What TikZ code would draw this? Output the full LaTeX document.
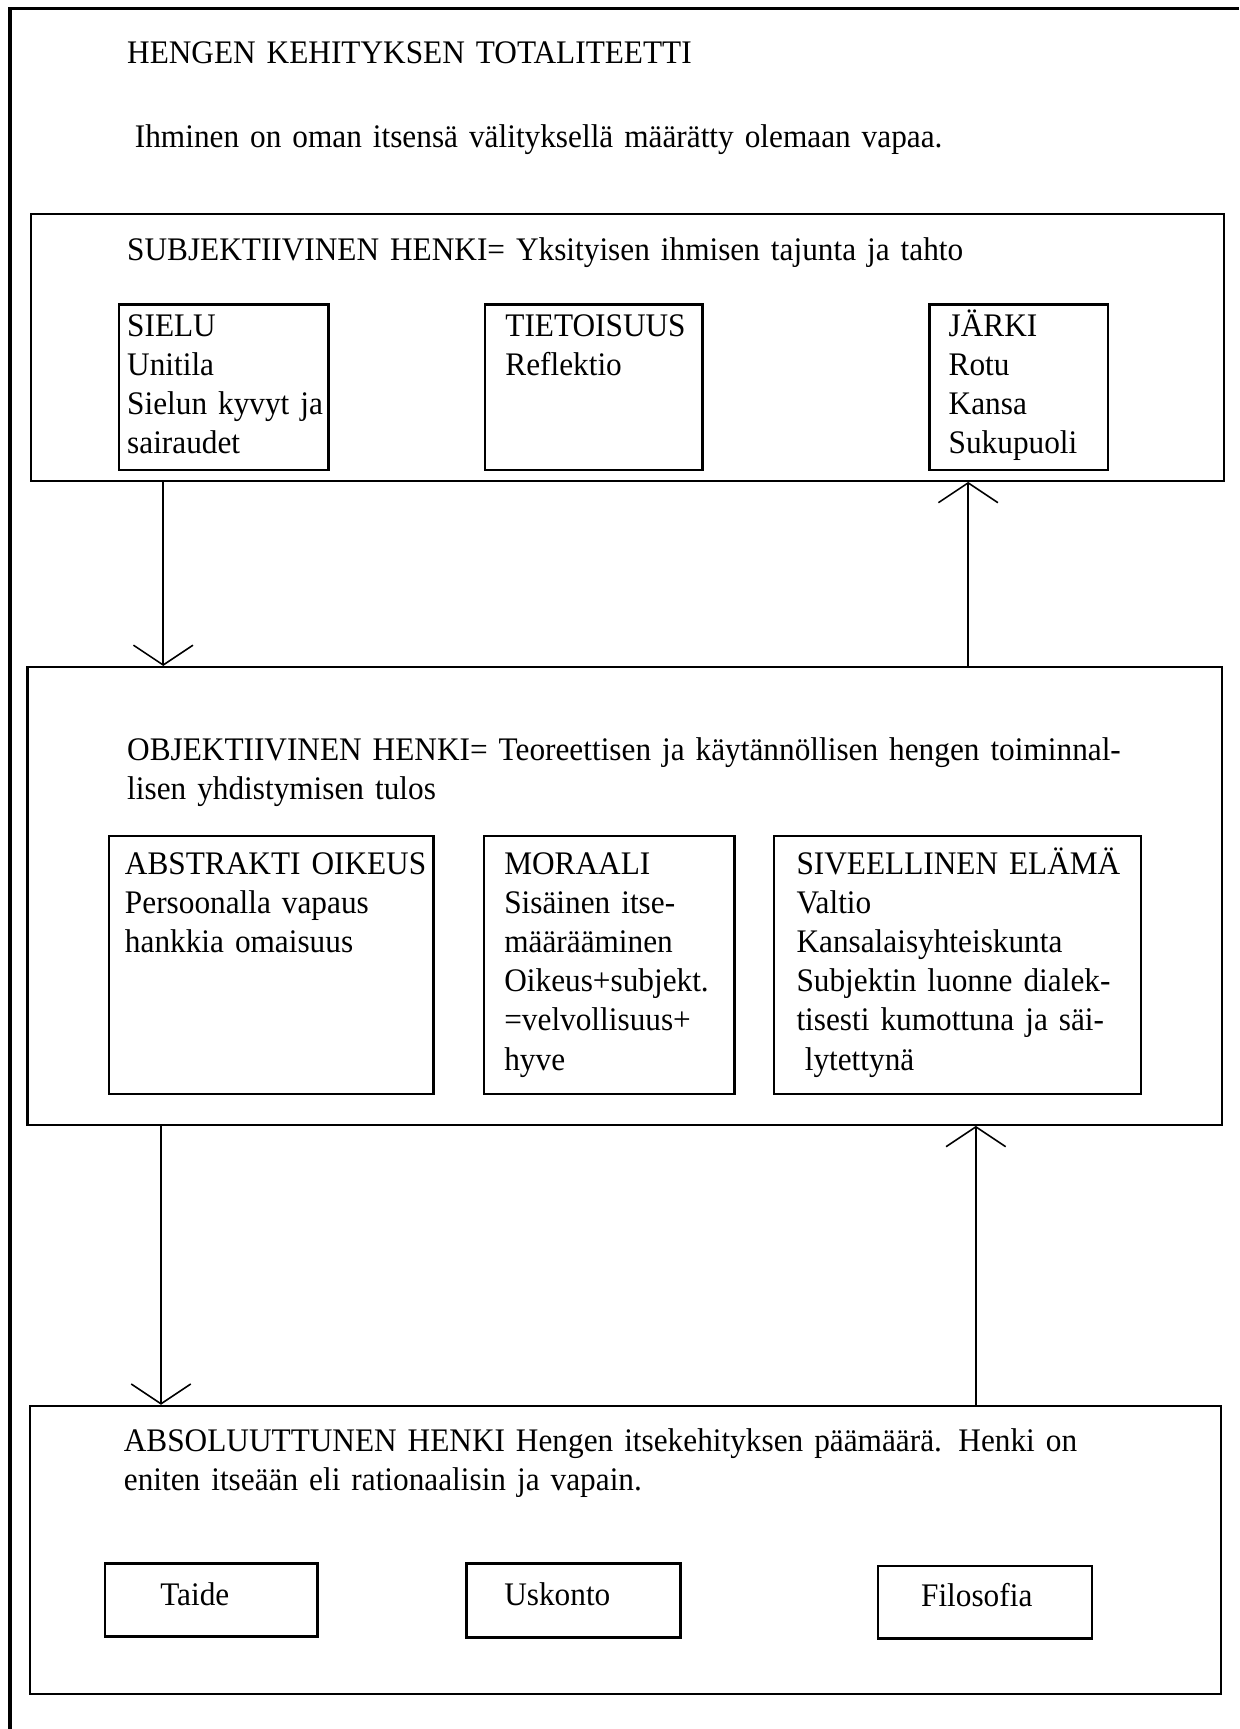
\documentclass[tikz,border=0pt]{standalone}
\usepackage{fontspec}
\setmainfont{Liberation Serif}[FakeStretch=0.95]
\usetikzlibrary{arrows.meta,fit}

\tikzset{
  outerframe/.style={line width=1.7pt},
  bigbox/.style={draw, line width=1.2pt, inner sep=0pt},
  smallbox/.style={draw, line width=1.2pt, inner sep=0pt},
  txt/.style={anchor=base west, inner sep=0pt, align=left, text width=20cm,
    font=\fontsize{17}{20.2}\selectfont},
  flow/.style={line width=0.8pt, -{Straight Barb[length=3.6mm, width=10.8mm, line width=0.8pt]}},
}

\begin{document}
\begin{tikzpicture}[x=0.02cm, y=-0.02cm]
\useasboundingbox (0,0) rectangle (1124,1568);

% frame of the page
\draw[outerframe] (9,1568) -- (9,8) -- (1124,8);
\node[txt] (title) at (115,58) {HENGEN KEHITYKSEN TOTALITEETTI};
\node[txt] (motto) at (122,134) {Ihminen on oman itsensä välityksellä määrätty olemaan vapaa.};

% subjektiivinen henki
\node[bigbox, fit={(28,194) (1110,436)}] (subj) {};
\node[txt] (subjhead) at (115,236) {SUBJEKTIIVINEN HENKI= Yksityisen ihmisen tajunta ja tahto};
\node[smallbox, fit={(108,276) (298,426)}] (sielu) {};
\node[txt] (sielutxt) at (115,305) {SIELU\\Unitila\\Sielun kyvyt ja\\sairaudet};
\node[smallbox, fit={(440,276) (637,426)}] (tieto) {};
\node[txt] (tietotxt) at (458,305) {TIETOISUUS\\Reflektio};
\node[smallbox, fit={(843,276) (1005,426)}] (jarki) {};
\node[txt] (jarkitxt) at (860,305) {JÄRKI\\Rotu\\Kansa\\Sukupuoli};

% objektiivinen henki
\node[bigbox, fit={(25,605) (1108,1020)}] (obj) {};
\node[txt] (objhead) at (115,690) {OBJEKTIIVINEN HENKI= Teoreettisen ja käytännöllisen hengen toiminnal-\\lisen yhdistymisen tulos};
\node[smallbox, fit={(99,758) (393,992)}] (oikeus) {};
\node[txt] (oikeustxt) at (113,793) {ABSTRAKTI OIKEUS\\Persoonalla vapaus\\hankkia omaisuus};
\node[smallbox, fit={(439,758) (666,992)}] (moraali) {};
\node[txt] (moraalitxt) at (457,793) {MORAALI\\Sisäinen itse-\\määrääminen\\Oikeus+subjekt.\\=velvollisuus+\\hyve};
\node[smallbox, fit={(702,758) (1035,992)}] (elama) {};
\node[txt] (elamatxt) at (722,793) {SIVEELLINEN ELÄMÄ\\Valtio\\Kansalaisyhteiskunta\\Subjektin luonne dialek-\\tisesti kumottuna ja säi-\\\hspace*{0.15cm}lytettynä};

% absoluuttinen henki
\node[bigbox, fit={(27,1275) (1107,1536)}] (abs) {};
\node[txt] (abshead) at (112,1316) {ABSOLUUTTUNEN HENKI Hengen itsekehityksen päämäärä. Henki on\\eniten itseään eli rationaalisin ja vapain.};
\node[smallbox, fit={(95,1418) (288,1484)}] (taide) {};
\node[txt] (taidetxt) at (145,1456) {Taide};
\node[smallbox, fit={(423,1418) (617,1485)}] (uskonto) {};
\node[txt] (uskontotxt) at (457,1456) {Uskonto};
\node[smallbox, fit={(796,1420) (990,1486)}] (filosofia) {};
\node[txt] (filosofiatxt) at (835,1457) {Filosofia};

% connectors
\coordinate (down1) at (148,0);
\coordinate (up1) at (878,0);
\coordinate (down2) at (146,0);
\coordinate (up2) at (885,0);
\draw[flow] (down1 |- subj.south) -- (down1 |- obj.north);
\draw[flow] (up1 |- obj.north) -- (up1 |- subj.south);
\draw[flow] (down2 |- obj.south) -- (down2 |- abs.north);
\draw[flow] (up2 |- abs.north) -- (up2 |- obj.south);
\end{tikzpicture}
\end{document}
